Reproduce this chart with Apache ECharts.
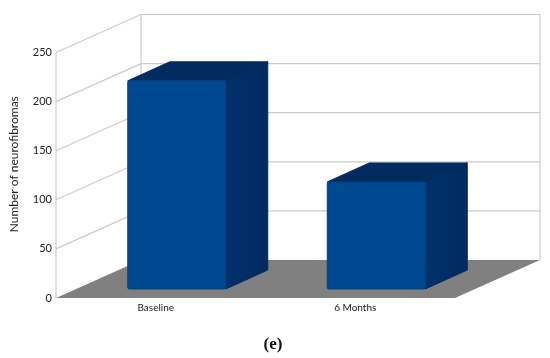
<!DOCTYPE html>
<html><head><meta charset="utf-8">
<style>html,body{margin:0;padding:0;background:#fff}#c{width:550px;height:358px}</style>
<script src="https://cdn.jsdelivr.net/npm/echarts@6/dist/echarts.min.js"></script>
</head><body><div id="c"></div>
<script>
const categories = ['Baseline', '6 Months'];
const neurofibromas = [212, 109];
const yTicks = [0, 50, 100, 150, 200, 250];
const yMax = 250;

const wallDx = 85, wallDy = -38;      // depth of the chart box
const barFront = [21, -9], barDepth = [42, -19];
const barW = 98;
const gridColor = '#cccccc';

const chart = echarts.init(document.getElementById('c'), null, {renderer: 'canvas'});

function line(a, b, w) {
  return {type: 'line', shape: {x1: a[0], y1: a[1], x2: b[0], y2: b[1]},
    style: {stroke: gridColor, lineWidth: w || 1.2}, silent: true};
}
function poly(points, fill, extra) {
  return {type: 'polygon', shape: {points}, style: Object.assign({fill}, extra || {}), silent: true};
}

function renderFloor(params, api) {
  const xL = params.coordSys.x, xR = xL + params.coordSys.width;
  const y = api.coord([0, 0])[1];
  return poly([[xL, y], [xR, y], [xR + wallDx, y + wallDy], [xL + wallDx, y + wallDy]], '#808080');
}
function renderWall(params, api) {
  const v = api.value(0);
  const xL = params.coordSys.x, xR = xL + params.coordSys.width;
  const y = api.coord([0, v])[1];
  const children = [];
  const yb = api.coord([0, 0])[1];
  if (v > 0) {
    children.push(line([xL, y], [xL + wallDx, y + wallDy]));
    children.push(line([xL + wallDx, y + wallDy], [xR + wallDx, y + wallDy]));
  }
  if (v === yMax) {
    children.push(line([xL, y], [xL, yb]));
    children.push(line([xL + wallDx, y + wallDy], [xL + wallDx, yb + wallDy]));
    children.push(line([xR + wallDx, y + wallDy], [xR + wallDx, yb + wallDy]));
  }
  return {type: 'group', children};
}
function renderBar(params, api) {
  const c = api.coord([api.value(0), 0]);
  const t = api.coord([api.value(0), api.value(1)]);
  const x0 = c[0] + barFront[0] - barW / 2, x1 = x0 + barW;
  const yb = c[1] + barFront[1], yt = t[1] + barFront[1];
  const [dx, dy] = barDepth;
  return {type: 'group', children: [
    poly([[x0, yt], [x0 + dx, yt + dy], [x1 + dx, yt + dy], [x1, yt]], '#022b60',
      {stroke: '#022b60', lineWidth: 1, lineJoin: 'round'}),
    poly([[x1, yt], [x1 + dx, yt + dy], [x1 + dx, yb + dy], [x1, yb]],
      new echarts.graphic.LinearGradient(0, 0, 1, 0, [
        {offset: 0, color: '#01316c'}, {offset: 1, color: '#012a5e'}]),
      {stroke: '#012a5e', lineWidth: 1, lineJoin: 'round'}),
    {type: 'rect', shape: {x: x0, y: yt, width: x1 - x0, height: yb - yt, r: 1.5},
      style: {fill: '#004990', stroke: '#00437f', lineWidth: 1}, silent: true}
  ]};
}

chart.setOption({
  animation: false,
  backgroundColor: '#fff',
  graphic: [{
    type: 'text', x: 273, y: 345,
    style: {text: '(e)', fontFamily: 'Liberation Serif', fontSize: 17, fontWeight: 'bold',
      fill: '#111', align: 'center', verticalAlign: 'middle'}
  }],
  grid: {left: 55, right: 95, top: 52.5, bottom: 60},
  xAxis: {
    type: 'category', data: categories,
    axisLine: {show: false}, axisTick: {show: false}, splitLine: {show: false},
    axisLabel: {fontFamily: 'Lato', fontSize: 10, color: '#222', margin: 5}
  },
  yAxis: {
    type: 'value', min: 0, max: yMax, interval: 50,
    name: 'Number of neurofibromas', nameLocation: 'middle', nameRotate: 90, nameGap: 36,
    nameTextStyle: {fontFamily: 'Lato', fontSize: 12, color: '#222', padding: [0, 0, 0, 22]},
    axisLine: {show: false}, axisTick: {show: false}, splitLine: {show: false},
    axisLabel: {fontFamily: 'Lato', fontSize: 11, color: '#222', margin: 4}
  },
  series: [
    {type: 'custom', clip: false, z: 1, renderItem: renderFloor, data: [[0]], encode: {y: 0}, silent: true},
    {type: 'custom', clip: false, z: 2, renderItem: renderWall, data: yTicks.map(v => [v]), encode: {y: 0}, silent: true},
    {type: 'custom', clip: false, z: 3, renderItem: renderBar,
      data: neurofibromas.map((v, i) => [i, v]), encode: {x: 0, y: 1}, silent: true}
  ]
});
</script></body></html>
